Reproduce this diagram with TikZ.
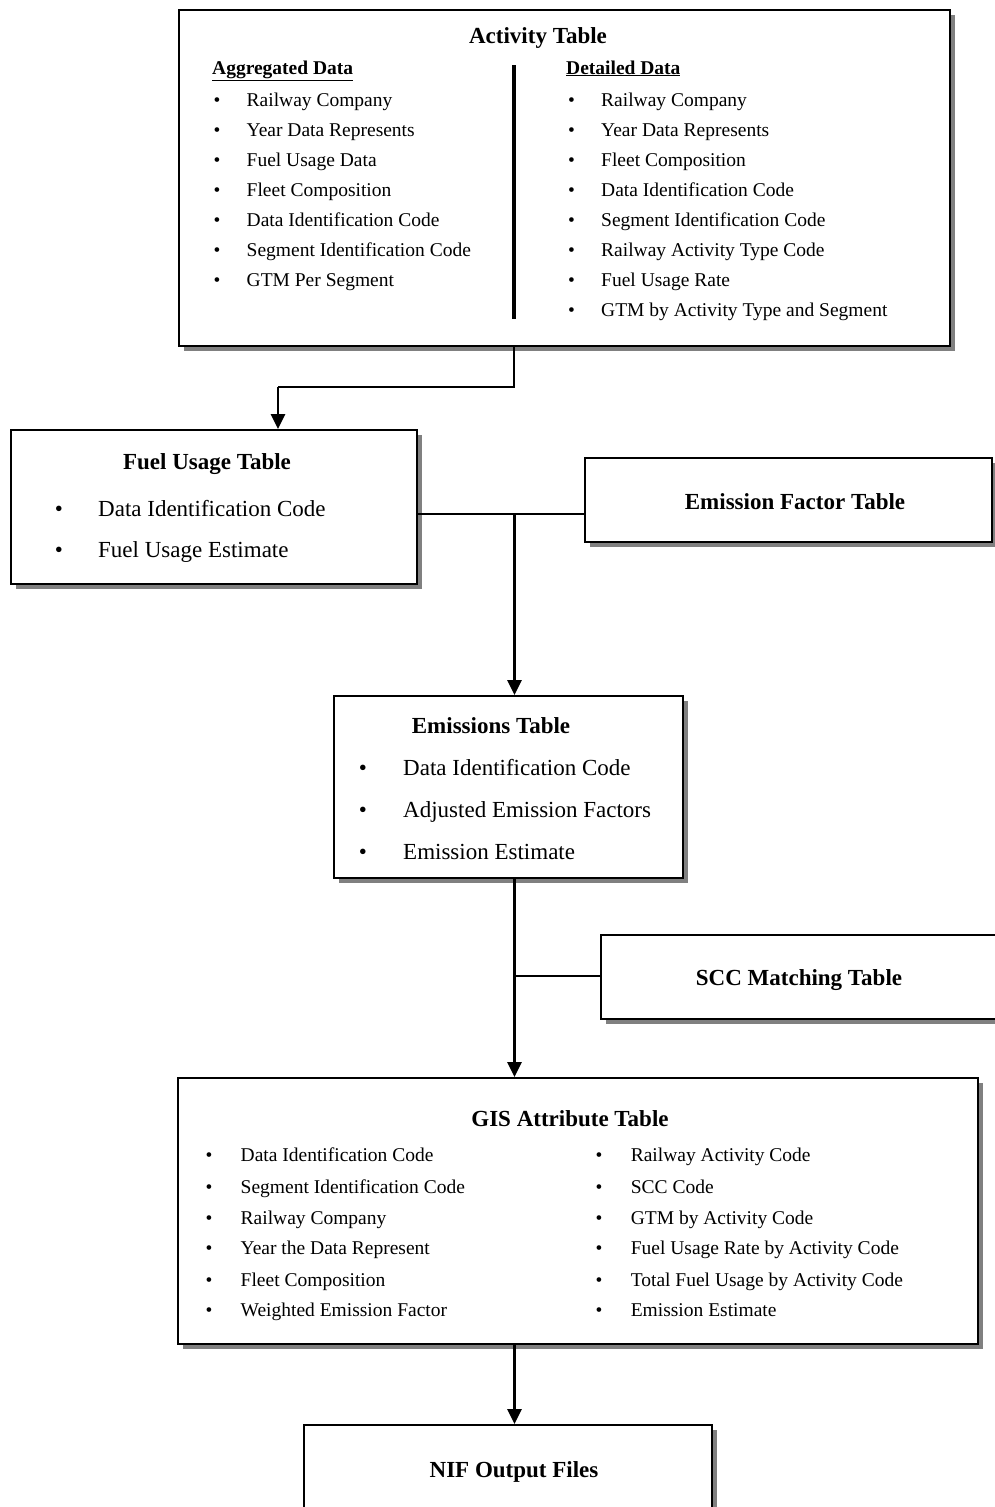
\documentclass[tikz,border=0pt]{standalone}
\usepackage{fontspec}
\setmainfont{Liberation Serif}
\usetikzlibrary{shadows,arrows.meta}
\tikzset{
  box/.style={draw=black, fill=white, line width=1.8pt, inner sep=0pt,
    drop shadow={shadow xshift=5pt, shadow yshift=-5pt, fill=black!50, opacity=1}},
  ttl/.style={inner sep=0pt, anchor=base, font=\bfseries\fontsize{23}{23}\selectfont},
  sub/.style={inner sep=0pt, anchor=base west, font=\bfseries\fontsize{19.5}{19.5}\selectfont},
  itm/.style={inner sep=0pt, anchor=base west, font=\fontsize{19.5}{19.5}\selectfont},
  bul/.style={inner sep=0pt, anchor=base, font=\fontsize{19.5}{19.5}\selectfont},
  itmL/.style={inner sep=0pt, anchor=base west, font=\fontsize{23}{23}\selectfont},
  bulL/.style={inner sep=0pt, anchor=base, font=\fontsize{23}{23}\selectfont},
  conn/.style={line width=2pt},
  mainarrow/.style={line width=2.6pt, -{Triangle[width=14pt,length=15pt]}},
}
\begin{document}
\begin{tikzpicture}[x=1pt,y=-1pt]
\useasboundingbox (0,0) rectangle (995,1507);
\clip (0,0) rectangle (995,1507);
\fill[white] (0,0) rectangle (995,1507);

% ---- boxes ----
\node[box, minimum width=771pt, minimum height=336pt] (act) at (564.5,178) {};
\node[box, minimum width=406pt, minimum height=154pt] (fuel) at (214,507) {};
\node[box, minimum width=407pt, minimum height=84pt] (ef) at (788.5,500) {};
\node[box, minimum width=349pt, minimum height=182pt] (emis) at (508.5,787) {};
\node[box, minimum width=409pt, minimum height=84pt] (scc) at (805.5,977) {};
\node[box, minimum width=800pt, minimum height=266pt] (gis) at (578,1211) {};
\node[box, minimum width=408pt, minimum height=115pt] (nif) at (508,1482.5) {};

% ---- Activity Table ----
\node[ttl] (actT) at (538,43) {Activity Table};
\node[sub] (aggH) at (212,74) {\underline{Aggregated Data}};
\node[sub] (detH) at (566,74) {\underline{Detailed Data}};
\coordinate (divT) at (514,65);
\coordinate (divB) at (514,319);
\draw[line width=3.5pt] (divT) -- (divB);
\foreach \t [count=\i] in {Railway Company, Year Data Represents, Fuel Usage Data,
  Fleet Composition, Data Identification Code, Segment Identification Code, GTM Per Segment}{
  \node[bul] (aggB\i) at (217,{106+30*(\i-1)}) {\textbullet};
  \node[itm] (aggI\i) at (246.5,{106+30*(\i-1)}) {\t};
}
\foreach \t [count=\i] in {Railway Company, Year Data Represents, Fleet Composition,
  Data Identification Code, Segment Identification Code, Railway Activity Type Code,
  Fuel Usage Rate, GTM by Activity Type and Segment}{
  \node[bul] (detB\i) at (571.5,{106+30*(\i-1)}) {\textbullet};
  \node[itm] (detI\i) at (601,{106+30*(\i-1)}) {\t};
}

% ---- Fuel Usage Table ----
\node[ttl] (fuelT) at (207,469) {Fuel Usage Table};
\node[bulL] (fuelB1) at (59,516) {\textbullet};
\node[itmL] (fuelI1) at (98,516) {Data Identification Code};
\node[bulL] (fuelB2) at (59,557) {\textbullet};
\node[itmL] (fuelI2) at (98,557) {Fuel Usage Estimate};

% ---- Emission Factor Table ----
\node[ttl] (efT) at (795,509) {Emission Factor Table};

% ---- Emissions Table ----
\node[ttl] (emisT) at (491,733) {Emissions Table};
\node[bulL] (emisB1) at (363,775) {\textbullet};
\node[itmL] (emisI1) at (403,775) {Data Identification Code};
\node[bulL] (emisB2) at (363,817) {\textbullet};
\node[itmL] (emisI2) at (403,817) {Adjusted Emission Factors};
\node[bulL] (emisB3) at (363,859) {\textbullet};
\node[itmL] (emisI3) at (403,859) {Emission Estimate};

% ---- SCC Matching Table ----
\node[ttl] (sccT) at (799,985) {SCC Matching Table};

% ---- GIS Attribute Table ----
\node[ttl] (gisT) at (570,1126) {GIS Attribute Table};
\foreach \t/\y [count=\i] in {Data Identification Code/1161, Segment Identification Code/1193,
  Railway Company/1224, Year the Data Represent/1254, Fleet Composition/1286,
  Weighted Emission Factor/1316}{
  \node[bul] (gisLB\i) at (209,\y) {\textbullet};
  \node[itm] (gisLI\i) at (240.5,\y) {\t};
}
\foreach \t/\y [count=\i] in {Railway Activity Code/1161, SCC Code/1193,
  GTM by Activity Code/1224, Fuel Usage Rate by Activity Code/1254,
  Total Fuel Usage by Activity Code/1286, Emission Estimate/1316}{
  \node[bul] (gisRB\i) at (599,\y) {\textbullet};
  \node[itm] (gisRI\i) at (630.6,\y) {\t};
}

% ---- NIF Output Files ----
\node[ttl] (nifT) at (514,1477) {NIF Output Files};

% ---- connectors ----
\coordinate (j1) at (514,387);
\coordinate (k1) at (278,387);
\coordinate (j2) at (514.5,514);
\coordinate (j3) at (514.5,976);
\draw[conn] (j1 |- act.south) -- (j1) -- (k1);
\draw[mainarrow] (k1) -- (k1 |- fuel.north);
\draw[conn] (fuel.east |- j2) -- (ef.west |- j2);
\draw[mainarrow] (j2) -- (j2 |- emis.north);
\draw[conn] (j3) -- (scc.west |- j3);
\draw[mainarrow] (j2 |- emis.south) -- (j2 |- gis.north);
\draw[mainarrow] (j2 |- gis.south) -- (j2 |- nif.north);
\end{tikzpicture}
\end{document}
